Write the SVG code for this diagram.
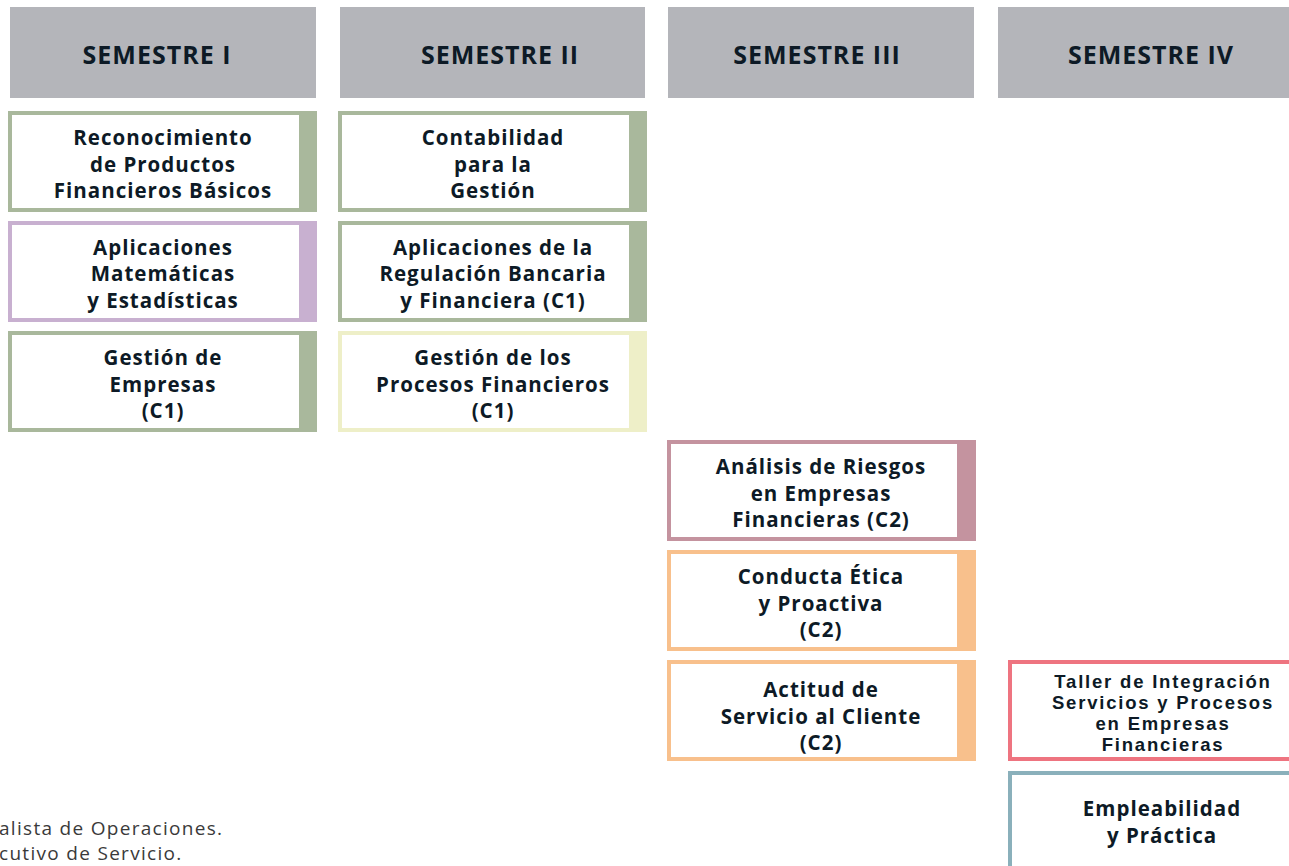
<svg xmlns="http://www.w3.org/2000/svg" width="1289" height="866" viewBox="0 0 1289 866">
<style>
.hdr{fill:#b4b5ba}
.ht{font-family:"Open Sans","Noto Sans",sans-serif;font-weight:700;font-size:25px;letter-spacing:1px;fill:#0d1a26;text-anchor:middle}
.bx{fill:#fff;stroke-width:4}
.t{font-family:"Open Sans","Noto Sans",sans-serif;font-weight:700;font-size:20.5px;letter-spacing:1px;fill:#0d1a26;text-anchor:middle}
.t2{font-family:"Liberation Sans",Arial,sans-serif;font-weight:700;font-size:18.5px;letter-spacing:1.8px;fill:#0d1a26;text-anchor:middle}
.ft{font-family:"Open Sans","Noto Sans",sans-serif;font-size:19px;letter-spacing:1.3px;fill:#3a3a3a}
</style>
<rect width="1289" height="866" fill="#fff"/>
<g id="h1"><rect class="hdr" x="10" y="7" width="306" height="91"/><text class="ht" x="157" y="64">SEMESTRE I</text></g>
<g id="h2"><rect class="hdr" x="340" y="7" width="305" height="91"/><text class="ht" x="500" y="64">SEMESTRE II</text></g>
<g id="h3"><rect class="hdr" x="668" y="7" width="306" height="91"/><text class="ht" x="817" y="64">SEMESTRE III</text></g>
<g id="h4"><rect class="hdr" x="998" y="7" width="300" height="91"/><text class="ht" x="1151" y="64">SEMESTRE IV</text></g>

<g id="n1"><rect class="bx" x="10" y="113" width="305" height="97" stroke="#a9b89c"/><rect x="299" y="111" width="18" height="101" fill="#a9b89c"/>
<text class="t" x="163" y="145">Reconocimiento</text><text class="t" x="163" y="172">de Productos</text><text class="t" x="163" y="198">Financieros Básicos</text></g>
<g id="n2"><rect class="bx" x="10" y="223" width="305" height="97" stroke="#c8b0d0"/><rect x="299" y="221" width="18" height="101" fill="#c8b0d0"/>
<text class="t" x="163" y="255">Aplicaciones</text><text class="t" x="163" y="281">Matemáticas</text><text class="t" x="163" y="308">y Estadísticas</text></g>
<g id="n3"><rect class="bx" x="10" y="333" width="305" height="97" stroke="#a9b89c"/><rect x="299" y="331" width="18" height="101" fill="#a9b89c"/>
<text class="t" x="163" y="365">Gestión de</text><text class="t" x="163" y="392">Empresas</text><text class="t" x="163" y="418">(C1)</text></g>

<g id="n4"><rect class="bx" x="340" y="113" width="305" height="97" stroke="#a9b89c"/><rect x="629" y="111" width="18" height="101" fill="#a9b89c"/>
<text class="t" x="493" y="145">Contabilidad</text><text class="t" x="493" y="172">para la</text><text class="t" x="493" y="198">Gestión</text></g>
<g id="n5"><rect class="bx" x="340" y="223" width="305" height="97" stroke="#a9b89c"/><rect x="629" y="221" width="18" height="101" fill="#a9b89c"/>
<text class="t" x="493" y="255">Aplicaciones de la</text><text class="t" x="493" y="281">Regulación Bancaria</text><text class="t" x="493" y="308">y Financiera (C1)</text></g>
<g id="n6"><rect class="bx" x="340" y="333" width="305" height="97" stroke="#eeefc8"/><rect x="629" y="331" width="18" height="101" fill="#eeefc8"/>
<text class="t" x="493" y="365">Gestión de los</text><text class="t" x="493" y="392">Procesos Financieros</text><text class="t" x="493" y="418">(C1)</text></g>

<g id="n7"><rect class="bx" x="669" y="442" width="305" height="97" stroke="#c4939f"/><rect x="957" y="440" width="18" height="101" fill="#c4939f"/>
<text class="t" x="821" y="474">Análisis de Riesgos</text><text class="t" x="821" y="501">en Empresas</text><text class="t" x="821" y="527">Financieras (C2)</text></g>
<g id="n8"><rect class="bx" x="669" y="552" width="305" height="97" stroke="#f8c08c"/><rect x="957" y="550" width="18" height="101" fill="#f8c08c"/>
<text class="t" x="821" y="584">Conducta Ética</text><text class="t" x="821" y="611">y Proactiva</text><text class="t" x="821" y="637">(C2)</text></g>
<g id="n9"><rect class="bx" x="669" y="662" width="305" height="97" stroke="#f8c08c"/><rect x="957" y="660" width="18" height="101" fill="#f8c08c"/>
<text class="t" x="821" y="697">Actitud de</text><text class="t" x="821" y="724">Servicio al Cliente</text><text class="t" x="821" y="750">(C2)</text></g>

<g id="n10"><rect class="bx" x="1010" y="662" width="305" height="97" stroke="#ee7480"/>
<text class="t2" x="1163" y="688">Taller de Integración</text><text class="t2" x="1163" y="709">Servicios y Procesos</text><text class="t2" x="1163" y="730">en Empresas</text><text class="t2" x="1163" y="751">Financieras</text></g>
<g id="n11"><rect class="bx" x="1010" y="773" width="305" height="110" stroke="#8ab0bb"/>
<text class="t" x="1162" y="816">Empleabilidad</text><text class="t" x="1162" y="843">y Práctica</text></g>

<g id="connectors"></g>
<text class="ft" x="-1" y="835">alista de Operaciones.</text>
<text class="ft" x="-1" y="860">cutivo de Servicio.</text>
</svg>
